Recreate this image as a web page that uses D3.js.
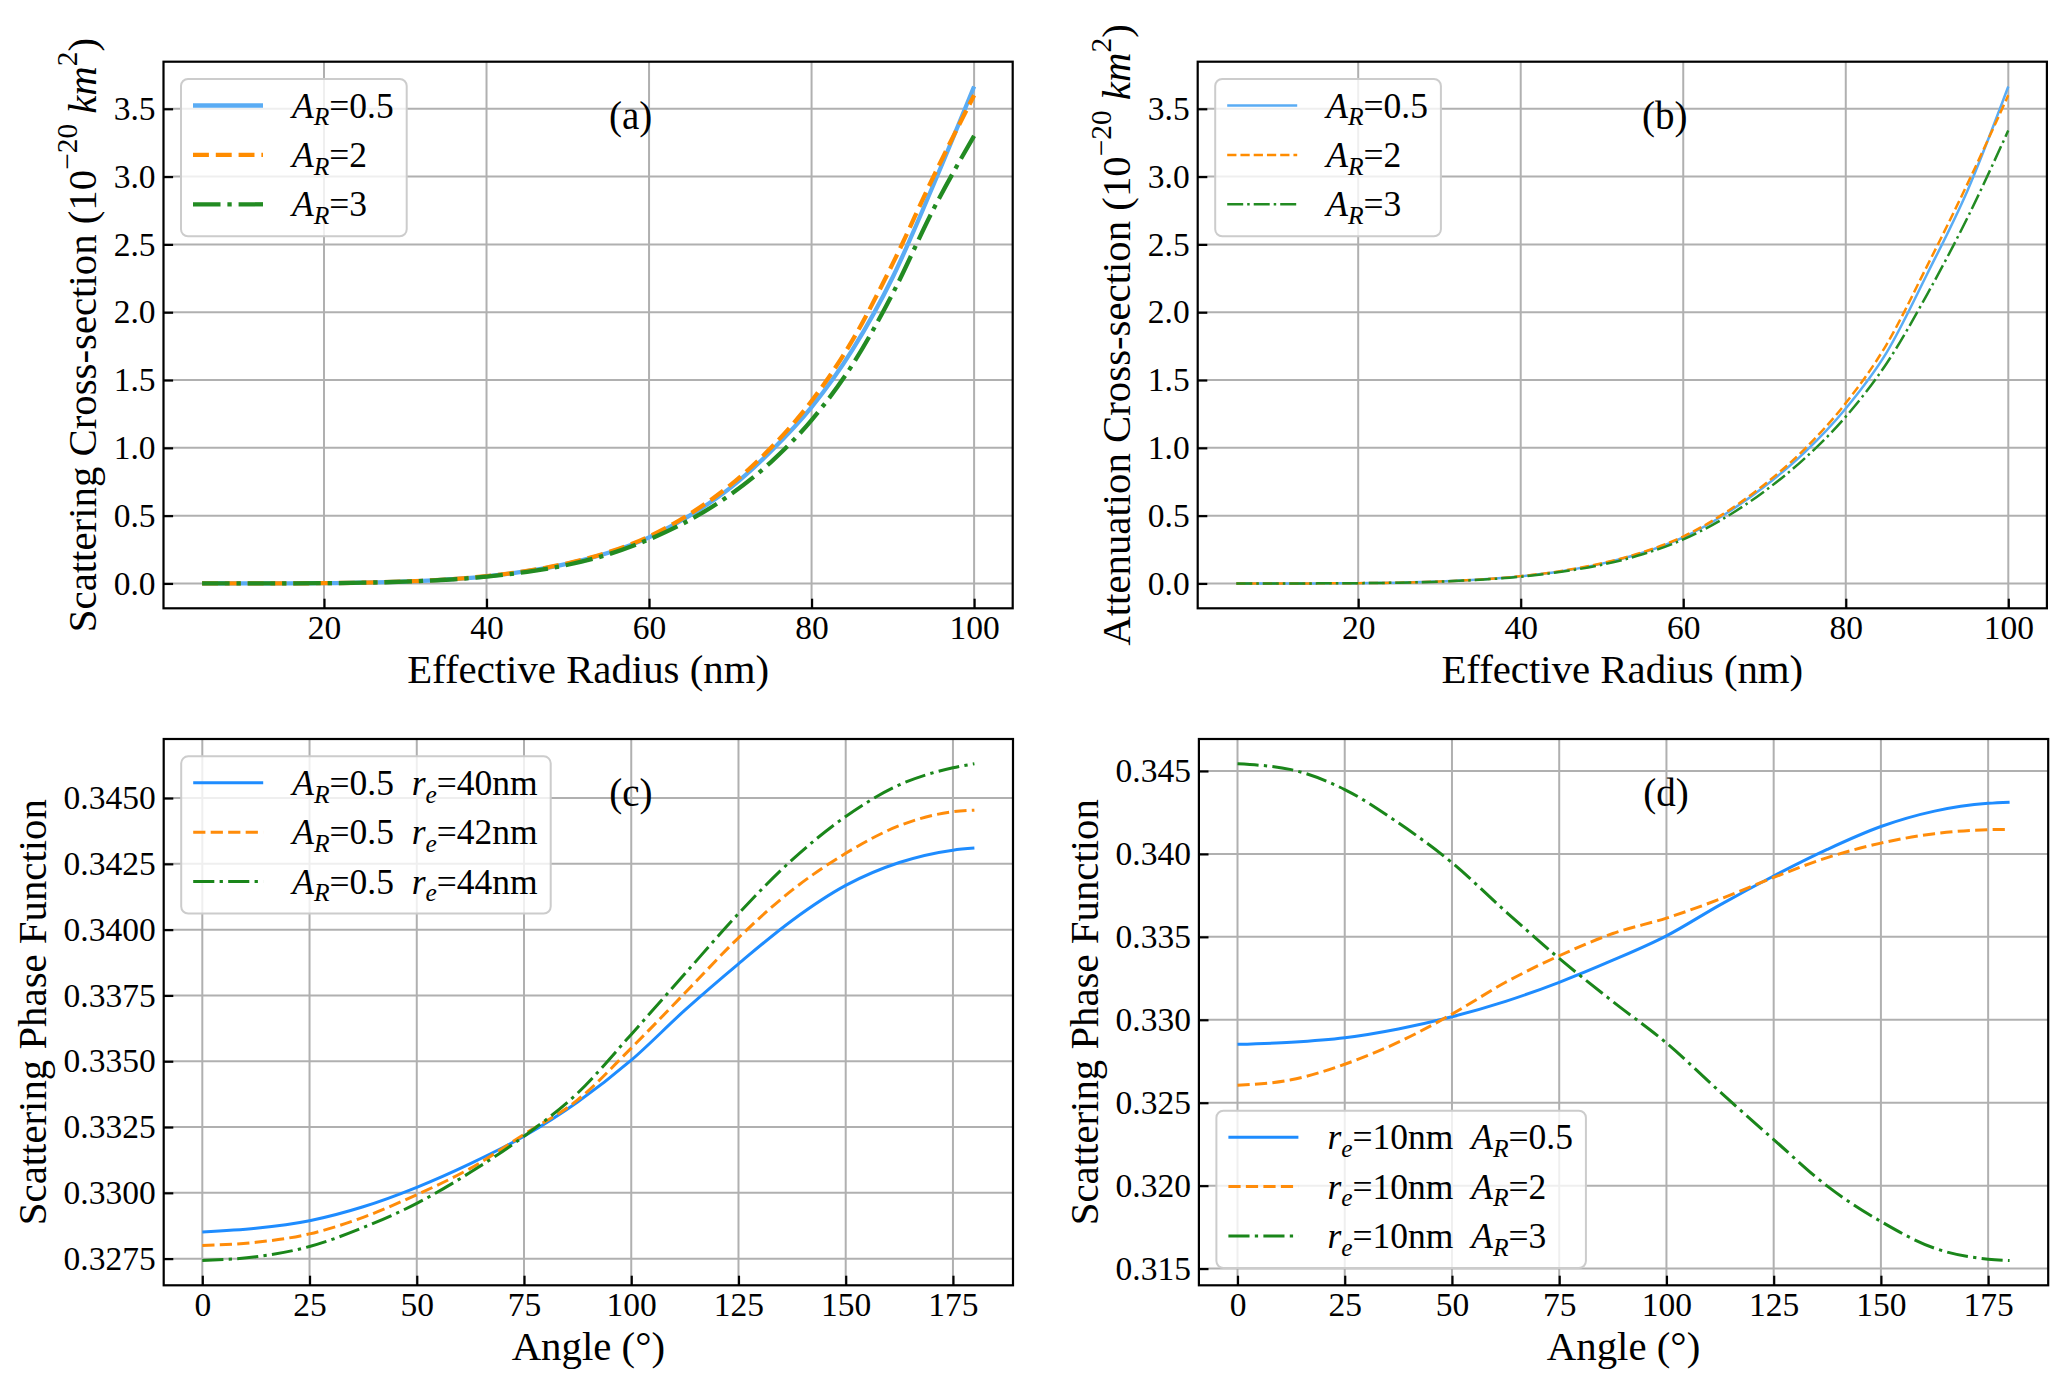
<!DOCTYPE html>
<html>
<head>
<meta charset="utf-8">
<script src="https://cdn.jsdelivr.net/npm/d3@7"></script>
<style>
  html, body { margin: 0; padding: 0; background: #ffffff; }
  svg { display: block; }
  text { font-family: "Liberation Serif", "Times New Roman", Times, serif; fill: #000; white-space: pre; }
</style>
</head>
<body>
<svg id="chart" width="2067" height="1388"></svg>
<script>
// ---------------- DATA ----------------
const radiusNm = [5, 10, 15, 20, 25, 30, 35, 40, 45, 50, 55, 60, 65, 70, 75, 80, 85, 90, 95, 100];

// (a) scattering cross-section (1e-20 km^2)
const scatAR05 = [0.0000, 0.0001, 0.0006, 0.0022, 0.0060, 0.0140, 0.0285, 0.053, 0.090, 0.146, 0.226, 0.340, 0.500, 0.705, 0.975, 1.300, 1.720, 2.260, 2.940, 3.664];
const scatAR2  = [0.0000, 0.0001, 0.0006, 0.0022, 0.0061, 0.0142, 0.0288, 0.054, 0.092, 0.149, 0.230, 0.346, 0.512, 0.725, 1.000, 1.345, 1.790, 2.360, 3.000, 3.600];
const scatAR3  = [0.0000, 0.0001, 0.0006, 0.0021, 0.0058, 0.0134, 0.0272, 0.050, 0.086, 0.138, 0.215, 0.325, 0.468, 0.655, 0.895, 1.205, 1.610, 2.140, 2.760, 3.300];

// (b) attenuation cross-section (1e-20 km^2)
const attAR05 = [0.0000, 0.0001, 0.0006, 0.0022, 0.0060, 0.0140, 0.0285, 0.053, 0.090, 0.146, 0.226, 0.340, 0.505, 0.715, 0.970, 1.290, 1.700, 2.280, 2.900, 3.664];
const attAR2  = [0.0000, 0.0001, 0.0006, 0.0022, 0.0061, 0.0142, 0.0288, 0.054, 0.092, 0.149, 0.230, 0.346, 0.515, 0.730, 0.995, 1.330, 1.760, 2.340, 2.950, 3.600];
const attAR3  = [0.0000, 0.0001, 0.0006, 0.0021, 0.0058, 0.0134, 0.0272, 0.050, 0.086, 0.138, 0.215, 0.325, 0.480, 0.680, 0.925, 1.230, 1.620, 2.130, 2.700, 3.340];

const angleDeg = [0, 12.5, 25, 37.5, 50, 62.5, 75, 87.5, 100, 112.5, 125, 137.5, 150, 162.5, 175, 180];

// (c) phase function, A_R = 0.5
const phaseRe40 = [0.32851, 0.32865, 0.32894, 0.32947, 0.33021, 0.33111, 0.33215, 0.33345, 0.33504, 0.33694, 0.33870, 0.34035, 0.34168, 0.34255, 0.34302, 0.34310];
const phaseRe42 = [0.32800, 0.32812, 0.32844, 0.32907, 0.32993, 0.33093, 0.33222, 0.33353, 0.33550, 0.33759, 0.33969, 0.34150, 0.34290, 0.34395, 0.34448, 0.34454];
const phaseRe44 = [0.32743, 0.32757, 0.32796, 0.32868, 0.32960, 0.33078, 0.33215, 0.33379, 0.33602, 0.33832, 0.34061, 0.34265, 0.34430, 0.34550, 0.34615, 0.34630];

// (d) phase function, r_e = 10 nm
const phaseAR05 = [0.32852, 0.32865, 0.32892, 0.32945, 0.33018, 0.33111, 0.33226, 0.33359, 0.33506, 0.33693, 0.33867, 0.34027, 0.34165, 0.34258, 0.34305, 0.34312];
const phaseAR2  = [0.32606, 0.32638, 0.32732, 0.32865, 0.33034, 0.33226, 0.33386, 0.33520, 0.33613, 0.33728, 0.33858, 0.33978, 0.34065, 0.34122, 0.34146, 0.34148];
const phaseAR3  = [0.34543, 0.34508, 0.34388, 0.34187, 0.33947, 0.33653, 0.33370, 0.33110, 0.32860, 0.32565, 0.32278, 0.31997, 0.31784, 0.31623, 0.31557, 0.31549];

// ticks
const radiusTicks = [20, 40, 60, 80, 100];
const crossTicks = [0.0, 0.5, 1.0, 1.5, 2.0, 2.5, 3.0, 3.5];
const angleTicks = [0, 25, 50, 75, 100, 125, 150, 175];
const phaseTicksC = [0.3275, 0.3300, 0.3325, 0.3350, 0.3375, 0.3400, 0.3425, 0.3450];
const phaseTicksD = [0.315, 0.320, 0.325, 0.330, 0.335, 0.340, 0.345];

// labels
const legendAB = ["$A_R$=0.5", "$A_R$=2", "$A_R$=3"];
const legendC = ["$A_R$=0.5  $r_e$=40nm", "$A_R$=0.5  $r_e$=42nm", "$A_R$=0.5  $r_e$=44nm"];
const legendD = ["$r_e$=10nm  $A_R$=0.5", "$r_e$=10nm  $A_R$=2", "$r_e$=10nm  $A_R$=3"];
const panelTags = ["(a)", "(b)", "(c)", "(d)"];

// ---------------- RENDERING ----------------
const svg = d3.select("#chart");
svg.append("rect").attr("width", 2067).attr("height", 1388).attr("fill", "#fff");

const FS_TICK = 33.5, FS_LABEL = 40.8, FS_LEG = 35.5, FS_TAG = 39;

function parseRich(s) {
  const parts = [];
  s.split("$").forEach((seg, i) => {
    if (i % 2 === 0) { if (seg) parts.push({ t: seg, it: false, lvl: 0 }); return; }
    let j = 0;
    while (j < seg.length) {
      const c = seg[j];
      if (c === "_" || c === "^") {
        const lvl = c === "_" ? -1 : 1; j++;
        let content;
        if (seg[j] === "{") { const k = seg.indexOf("}", j); content = seg.slice(j + 1, k); j = k + 1; }
        else { content = seg[j]; j++; }
        for (const ch of content) parts.push({ t: ch === "-" ? "\u2212" : ch, it: /[A-Za-z]/.test(ch), lvl });
      } else {
        parts.push({ t: c === "-" ? "\u2212" : c, it: /[A-Za-z]/.test(c), lvl: 0 }); j++;
      }
    }
  });
  const merged = [];
  parts.forEach(p => {
    const last = merged[merged.length - 1];
    if (last && last.it === p.it && last.lvl === p.lvl) last.t += p.t; else merged.push({ ...p });
  });
  return merged;
}

function renderRich(textSel, s, fs) {
  let cur = 0;
  parseRich(s).forEach(p => {
    const target = p.lvl === -1 ? 0.22 * fs : (p.lvl === 1 ? -0.45 * fs : 0);
    textSel.append("tspan")
      .attr("dy", target - cur)
      .attr("font-size", p.lvl ? fs * 0.72 : fs)
      .attr("font-style", p.it ? "italic" : "normal")
      .text(p.t);
    cur = target;
  });
}

function dashFor(style, lw) {
  if (style === "dashed") return [3.7 * lw, 1.6 * lw].join(",");
  if (style === "dashdot") return [6.4 * lw, 1.6 * lw, 1.0 * lw, 1.6 * lw].join(",");
  return null;
}

function padExtent(arrs) {
  const lo = d3.min(arrs, a => d3.min(a)), hi = d3.max(arrs, a => d3.max(a));
  const m = (hi - lo) * 0.05;
  return [lo - m, hi + m];
}

function drawPanel(cfg) {
  const { x0, y0, w, h } = cfg.box;
  const g = svg.append("g");
  const x = d3.scaleLinear().domain(padExtent([cfg.xs])).range([x0, x0 + w]);
  const y = d3.scaleLinear().domain(padExtent(cfg.series.map(s => s.ys))).range([y0 + h, y0]);

  // grid
  const grid = g.append("g").attr("stroke", "#b0b0b0").attr("stroke-width", 2);
  grid.selectAll(".gx").data(cfg.xTicks).join("line")
    .attr("x1", d => x(d)).attr("x2", d => x(d)).attr("y1", y0).attr("y2", y0 + h);
  grid.selectAll(".gy").data(cfg.yTicks).join("line")
    .attr("x1", x0).attr("x2", x0 + w).attr("y1", d => y(d)).attr("y2", d => y(d));

  // lines
  const line = d3.line().x((d, i) => x(cfg.xs[i])).y(d => y(d)).curve(d3.curveMonotoneX);
  cfg.series.forEach(s => {
    g.append("path").attr("d", line(s.ys))
      .attr("fill", "none").attr("stroke", s.color).attr("stroke-width", cfg.lw)
      .attr("stroke-dasharray", dashFor(s.style, cfg.dashLw))
      .attr("stroke-linejoin", "round").attr("stroke-linecap", "butt");
  });

  // legend
  const rowGap = 49.4, firstRow = 26.5, boxH = firstRow + 2 * rowGap + 32;
  const lx = x0 + 17.5;
  const ly = cfg.legendPos === "lower" ? (y0 + h - 17.3 - boxH) : (y0 + 17.3);
  const leg = g.append("g");
  const frame = leg.append("rect").attr("x", lx).attr("y", ly).attr("height", boxH)
    .attr("rx", 7).attr("ry", 7).attr("fill", "#fff").attr("fill-opacity", 0.8)
    .attr("stroke", "#cccccc").attr("stroke-width", 2);
  let maxLen = 0;
  cfg.series.forEach((s, i) => {
    const ry = ly + firstRow + i * rowGap;
    leg.append("line").attr("x1", lx + 12).attr("x2", lx + 82).attr("y1", ry).attr("y2", ry)
      .attr("stroke", s.color).attr("stroke-width", cfg.lw)
      .attr("stroke-dasharray", dashFor(s.style, cfg.dashLw));
    const t = leg.append("text").attr("x", lx + 111).attr("y", ry + 12).attr("font-size", FS_LEG)
      .attr("xml:space", "preserve");
    renderRich(t, cfg.legend[i], FS_LEG);
    maxLen = Math.max(maxLen, t.node().getComputedTextLength());
  });
  frame.attr("width", 111 + maxLen + 13);

  // spines
  g.append("rect").attr("x", x0).attr("y", y0).attr("width", w).attr("height", h)
    .attr("fill", "none").attr("stroke", "#000").attr("stroke-width", 2.2);

  // axes (ticks inward)
  const ax = g.append("g").attr("transform", `translate(0,${y0 + h})`)
    .call(d3.axisBottom(x).tickValues(cfg.xTicks).tickFormat(d3.format("d")).tickSize(-9.6).tickPadding(7));
  const ay = g.append("g").attr("transform", `translate(${x0},0)`)
    .call(d3.axisLeft(y).tickValues(cfg.yTicks).tickFormat(d3.format(cfg.yFmt)).tickSize(-9.6).tickPadding(8));
  [ax, ay].forEach(a => {
    a.attr("font-family", null).attr("font-size", null);
    a.select(".domain").remove();
    a.selectAll(".tick line").attr("stroke", "#000").attr("stroke-width", 2.2);
    a.selectAll(".tick text").attr("font-size", FS_TICK).attr("fill", "#000");
  });
  let maxTick = 0;
  ay.selectAll(".tick text").each(function () { maxTick = Math.max(maxTick, this.getComputedTextLength()); });

  // axis titles
  g.append("text").attr("x", x0 + w / 2).attr("y", y0 + h + 75).attr("text-anchor", "middle")
    .attr("font-size", FS_LABEL).text(cfg.xLabel);
  const ylx = x0 - 8 - maxTick - 18, yly = y0 + h / 2;
  const yt = g.append("text").attr("x", ylx).attr("y", yly).attr("text-anchor", "middle")
    .attr("transform", `rotate(-90,${ylx},${yly})`).attr("font-size", FS_LABEL);
  renderRich(yt, cfg.yLabel, FS_LABEL);

  // panel tag
  g.append("text").attr("x", x0 + 0.55 * w).attr("y", y0 + 0.1 * h).attr("dy", "0.32em")
    .attr("text-anchor", "middle").attr("font-size", FS_TAG).text(cfg.tag);
}

const colAB = { blue: "#5aacf4", orange: "#ff8c00", green: "#228b22" };
const colCD = { blue: "#1e8cff", orange: "#ff8c0a", green: "#1a861a" };

drawPanel({
  box: { x0: 163.5, y0: 61.7, w: 849.2, h: 546.6 },
  xs: radiusNm, xTicks: radiusTicks, yTicks: crossTicks, yFmt: ".1f",
  lw: 4.3, dashLw: 4.3,
  series: [
    { ys: scatAR05, color: colAB.blue, style: "solid" },
    { ys: scatAR2, color: colAB.orange, style: "dashed" },
    { ys: scatAR3, color: colAB.green, style: "dashdot" }
  ],
  legend: legendAB, legendPos: "upper",
  xLabel: "Effective Radius (nm)", yLabel: "Scattering Cross-section (10$^{-20}$ $km^2$)", tag: panelTags[0]
});

drawPanel({
  box: { x0: 1197.7, y0: 61.7, w: 849.2, h: 546.6 },
  xs: radiusNm, xTicks: radiusTicks, yTicks: crossTicks, yFmt: ".1f",
  lw: 2.5, dashLw: 2.5,
  series: [
    { ys: attAR05, color: colAB.blue, style: "solid" },
    { ys: attAR2, color: colAB.orange, style: "dashed" },
    { ys: attAR3, color: colAB.green, style: "dashdot" }
  ],
  legend: legendAB, legendPos: "upper",
  xLabel: "Effective Radius (nm)", yLabel: "Attenuation Cross-section (10$^{-20}$ $km^2$)", tag: panelTags[1]
});

drawPanel({
  box: { x0: 163.7, y0: 739, w: 849.3, h: 546.3 },
  xs: angleDeg, xTicks: angleTicks, yTicks: phaseTicksC, yFmt: ".4f",
  lw: 3.0, dashLw: 3.3,
  series: [
    { ys: phaseRe40, color: colCD.blue, style: "solid" },
    { ys: phaseRe42, color: colCD.orange, style: "dashed" },
    { ys: phaseRe44, color: colCD.green, style: "dashdot" }
  ],
  legend: legendC, legendPos: "upper",
  xLabel: "Angle (°)", yLabel: "Scattering Phase Function", tag: panelTags[2]
});

drawPanel({
  box: { x0: 1198.9, y0: 739, w: 849.3, h: 546.3 },
  xs: angleDeg, xTicks: angleTicks, yTicks: phaseTicksD, yFmt: ".3f",
  lw: 3.0, dashLw: 3.3,
  series: [
    { ys: phaseAR05, color: colCD.blue, style: "solid" },
    { ys: phaseAR2, color: colCD.orange, style: "dashed" },
    { ys: phaseAR3, color: colCD.green, style: "dashdot" }
  ],
  legend: legendD, legendPos: "lower",
  xLabel: "Angle (°)", yLabel: "Scattering Phase Function", tag: panelTags[3]
});
</script>
</body>
</html>
